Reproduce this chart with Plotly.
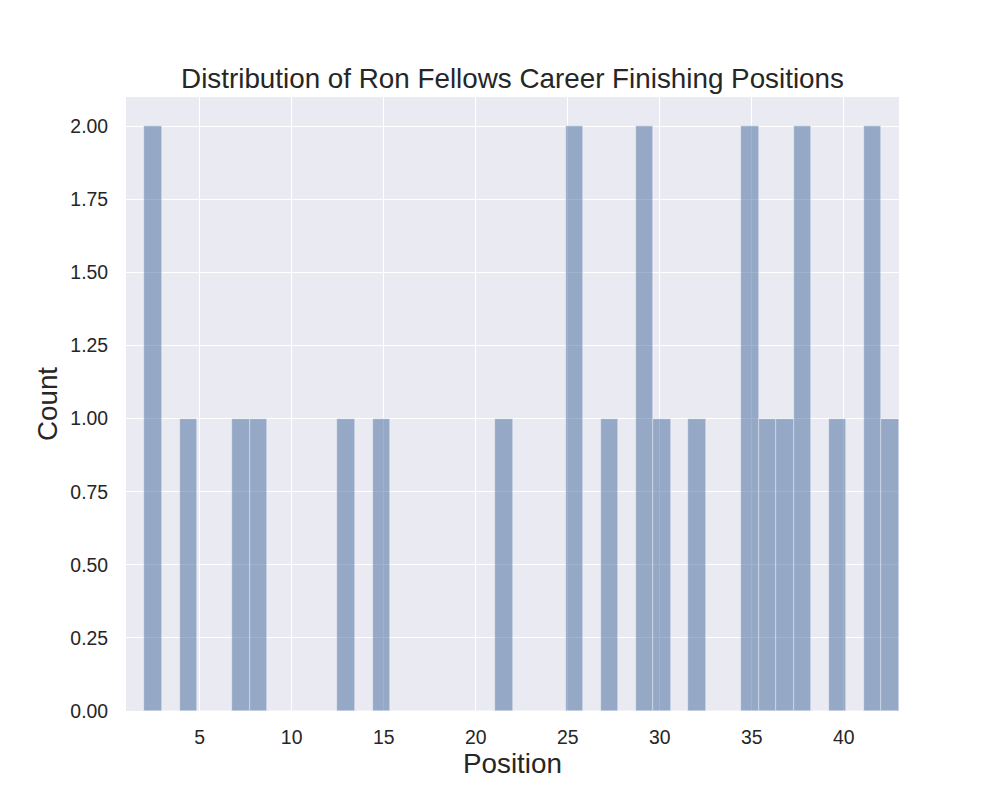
import numpy as np
import plotly.graph_objects as go

# Finishing positions (each value repeated by its count)
positions = [2, 2, 4, 7, 8, 13, 15, 22, 25, 25, 27, 29, 29, 30, 32,
             35, 35, 36, 37, 38, 38, 40, 42, 42, 43]
n_bins = 43
y_ticks = [0, 0.25, 0.5, 0.75, 1.0, 1.25, 1.5, 1.75, 2.0]
x_ticks = [5, 10, 15, 20, 25, 30, 35, 40]

counts, edges = np.histogram(positions, bins=n_bins)
centers = (edges[:-1] + edges[1:]) / 2
widths = np.diff(edges)

fig = go.Figure(go.Bar(
    x=centers, y=counts, width=widths,
    marker=dict(color="rgba(70,110,160,0.52)", line=dict(color="rgba(255,255,255,0.6)", width=0.6)),
))

font = "Liberation Sans, Arial, sans-serif"
fig.update_layout(
    width=1000, height=800,
    margin=dict(l=126, r=101, t=97, b=89),
    paper_bgcolor="white", plot_bgcolor="#eaeaf2",
    bargap=0,
    showlegend=False,
    font=dict(family=font, color="#262626", size=19),
    title=dict(text="Distribution of Ron Fellows Career Finishing Positions",
               x=0.5125, xanchor="center", y=0.9025, yanchor="middle",
               font=dict(size=27.8, color="#262626")),
    xaxis=dict(range=[1.0, 43.0], tickvals=x_ticks, showgrid=True, gridcolor="white",
               gridwidth=1.2, zeroline=False, showline=False, ticks="outside",
               ticklen=9, tickcolor="rgba(0,0,0,0)", tickfont=dict(size=19.4),
               title=dict(text="Position", font=dict(size=27.8), standoff=4)),
    yaxis=dict(range=[0, 2.1], tickvals=y_ticks, tickformat=".2f", showgrid=True,
               gridcolor="white", gridwidth=1.2, zeroline=False, showline=False,
               ticks="outside", ticklen=13, tickcolor="rgba(0,0,0,0)",
               tickfont=dict(size=19.4),
               title=dict(text="Count", font=dict(size=27.8), standoff=4)),
)

fig.write_html("out.html")
